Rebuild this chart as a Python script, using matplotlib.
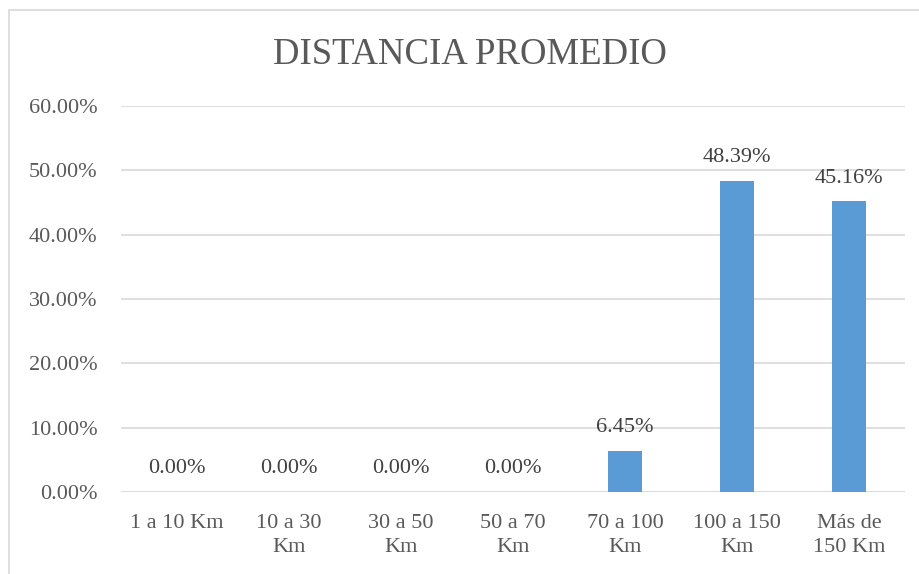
import matplotlib
matplotlib.use('Agg')
from matplotlib import pyplot as plt
from matplotlib.patches import Rectangle

categories = ['1 a 10 Km', '10 a 30\nKm', '30 a 50\nKm', '50 a 70\nKm', '70 a 100\nKm', '100 a 150\nKm', 'Más de\n150 Km']
values = [0.0, 0.0, 0.0, 0.0, 6.45, 48.39, 45.16]
y_ticks = [0, 10, 20, 30, 40, 50, 60]

plt.rcParams['font.family'] = ['Liberation Serif', 'DejaVu Serif']
text_color = '#595959'

fig = plt.figure(figsize=(9.2, 5.74), dpi=100)
fig.patches.append(Rectangle((9 / 920, -0.1), 1.2, 1 - 10 / 574 + 0.1, transform=fig.transFigure,
                             fill=False, edgecolor='#D9D9D9', linewidth=1.2))

ax = fig.add_axes([121 / 920, 1 - 492 / 574, (905 - 121) / 920, (492 - 106) / 574])
x = range(len(categories))
ax.bar(x, values, width=0.31, color='#5B9BD5', zorder=3)

for xi, v in zip(x, values):
    ax.annotate(f'{v:.2f}%', (xi, v), xytext=(0, 10), textcoords='offset points',
                ha='center', va='bottom', fontsize=16, color='#404040')

ax.set_xlim(-0.5, len(categories) - 0.5)
ax.set_ylim(0, 60)
ax.set_yticks(y_ticks)
ax.set_yticklabels([f'{t:.2f}%' for t in y_ticks])
ax.set_xticks(list(x))
ax.set_xticklabels(categories, linespacing=1.35)
ax.tick_params(axis='both', length=0, labelsize=16, labelcolor=text_color)
ax.tick_params(axis='y', pad=17)
ax.tick_params(axis='x', pad=16)
ax.grid(axis='y', color='#D9D9D9', linewidth=1.2, zorder=0)
for s in ax.spines.values():
    s.set_visible(False)
ax.axhline(0, color='#D9D9D9', linewidth=1.2, zorder=2)

fig.text(470 / 920, 1 - 55 / 574, 'DISTANCIA PROMEDIO', ha='center', va='center',
         fontsize=26.5, color=text_color)

fig.savefig('out.png', dpi=100)
